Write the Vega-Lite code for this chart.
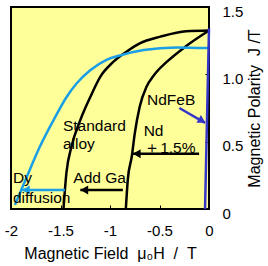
{
  "$schema": "https://vega.github.io/schema/vega-lite/v6.json",
  "width": 198,
  "height": 202,
  "autosize": "none",
  "padding": {"left": 11, "top": 7, "right": 59, "bottom": 57},
  "config": {
    "font": "Liberation Sans",
    "view": {"fill": "#FFFF99", "stroke": "#000000", "strokeWidth": 2}
  },
  "datasets": {
    "black_curves": [
      {"curve": "Standard alloy", "H": 0.0, "J": 1.325},
      {"curve": "Standard alloy", "H": -0.23, "J": 1.32},
      {"curve": "Standard alloy", "H": -0.49, "J": 1.28},
      {"curve": "Standard alloy", "H": -0.7, "J": 1.23},
      {"curve": "Standard alloy", "H": -0.83, "J": 1.17},
      {"curve": "Standard alloy", "H": -0.97, "J": 1.09},
      {"curve": "Standard alloy", "H": -1.1, "J": 0.98},
      {"curve": "Standard alloy", "H": -1.2, "J": 0.83},
      {"curve": "Standard alloy", "H": -1.3, "J": 0.66},
      {"curve": "Standard alloy", "H": -1.39, "J": 0.46},
      {"curve": "Standard alloy", "H": -1.44, "J": 0.27},
      {"curve": "Standard alloy", "H": -1.47, "J": 0.0},
      {"curve": "Nd +1.5%", "H": 0.0, "J": 1.325},
      {"curve": "Nd +1.5%", "H": -0.23, "J": 1.21},
      {"curve": "Nd +1.5%", "H": -0.43, "J": 1.09},
      {"curve": "Nd +1.5%", "H": -0.56, "J": 0.99},
      {"curve": "Nd +1.5%", "H": -0.63, "J": 0.91},
      {"curve": "Nd +1.5%", "H": -0.7, "J": 0.76},
      {"curve": "Nd +1.5%", "H": -0.75, "J": 0.56},
      {"curve": "Nd +1.5%", "H": -0.78, "J": 0.39},
      {"curve": "Nd +1.5%", "H": -0.82, "J": 0.22},
      {"curve": "Nd +1.5%", "H": -0.84, "J": 0.0}
    ],
    "blue_curve": [
      {"H": 0.0, "J": 1.195},
      {"H": -0.33, "J": 1.2},
      {"H": -0.66, "J": 1.18},
      {"H": -0.9, "J": 1.14},
      {"H": -1.03, "J": 1.11},
      {"H": -1.2, "J": 1.03},
      {"H": -1.34, "J": 0.93},
      {"H": -1.44, "J": 0.83},
      {"H": -1.57, "J": 0.66},
      {"H": -1.71, "J": 0.46},
      {"H": -1.84, "J": 0.24},
      {"H": -1.96, "J": 0.03}
    ],
    "ndfeb": [{"H": 0.0, "J": 1.34, "H2": -0.04, "J2": 0.0}],
    "black_arrows": [
      {"arrow": "Add Ga", "H": -0.87, "J": 0.141, "H2": -1.3, "J2": 0.141},
      {"arrow": "Nd", "H": -0.1, "J": 0.41, "H2": -0.77, "J2": 0.41}
    ],
    "blue_arrow": [{"arrow": "Dy", "H": -1.455, "J": 0.141, "H2": -1.89, "J2": 0.141}],
    "purple_arrow": [{"arrow": "NdFeB", "H": -0.3, "J": 0.75, "H2": -0.04, "J2": 0.64}],
    "labels": [
      {"label": "NdFeB", "H": -0.626, "J": 0.81},
      {"label": "Standard", "H": -1.475, "J": 0.62},
      {"label": "alloy", "H": -1.475, "J": 0.48},
      {"label": "Nd", "H": -0.66, "J": 0.58},
      {"label": "＋1.5%", "H": -0.655, "J": 0.455},
      {"label": "Add Ga", "H": -1.37, "J": 0.23},
      {"label": "Dy", "H": -1.98, "J": 0.23},
      {"label": "diffusion", "H": -1.98, "J": 0.08}
    ]
  },
  "encoding": {
    "x": {
      "field": "H",
      "type": "quantitative",
      "scale": {"domain": [-2, 0], "nice": false, "zero": false},
      "axis": {
        "orient": "bottom",
        "values": [-2, -1.5, -1, -0.5, 0],
        "labelExpr": "toString(datum.value)",
        "domain": false,
        "grid": false,
        "tickSize": -4,
        "tickColor": "#000000",
        "labelPadding": 18,
        "labelFontSize": 15,
        "labelColor": "#000000",
        "labelFlush": false,
        "labelOverlap": false,
        "title": "Magnetic Field\u00a0\u00a0μ₀H\u00a0\u00a0/\u00a0\u00a0T",
        "titleFontSize": 16,
        "titleFontWeight": "normal",
        "titleColor": "#000000",
        "titlePadding": 7
      }
    },
    "y": {
      "field": "J",
      "type": "quantitative",
      "scale": {"domain": [0, 1.5], "nice": false, "zero": false},
      "axis": {
        "orient": "right",
        "values": [0, 0.5, 1, 1.5],
        "labelExpr": "datum.value == 0 ? '0' : format(datum.value, '.1f')",
        "domain": false,
        "grid": false,
        "tickSize": -4,
        "tickColor": "#000000",
        "labelPadding": 17,
        "labelOffset": 4,
        "labelFontSize": 15,
        "labelColor": "#000000",
        "labelOverlap": false,
        "title": "Magnetic Polarity\u00a0\u00a0J\u00a0/T",
        "titleFontSize": 16,
        "titleFontWeight": "normal",
        "titleColor": "#000000",
        "titleAngle": 270,
        "titleBaseline": "top",
        "titlePadding": 4
      }
    }
  },
  "layer": [
    {
      "data": {"name": "black_curves"},
      "mark": {"type": "line", "color": "#000000", "strokeWidth": 2.5, "interpolate": "monotone"},
      "encoding": {"detail": {"field": "curve"}}
    },
    {
      "data": {"name": "blue_curve"},
      "mark": {"type": "line", "color": "#1A9FE6", "strokeWidth": 2.5, "interpolate": "monotone"},
      "encoding": {}
    },
    {
      "data": {"name": "ndfeb"},
      "mark": {"type": "rule", "color": "#3535C8", "strokeWidth": 2.5},
      "encoding": {"x2": {"field": "H2"}, "y2": {"field": "J2"}}
    },
    {
      "data": {"name": "black_arrows"},
      "mark": {"type": "rule", "color": "#000000", "strokeWidth": 2.5},
      "encoding": {"x2": {"field": "H2"}, "y2": {"field": "J2"}}
    },
    {
      "data": {"name": "black_arrows"},
      "mark": {"type": "point", "shape": "triangle-left", "filled": true, "color": "#000000", "size": 80, "opacity": 1, "xOffset": 4},
      "encoding": {"x": {"field": "H2", "type": "quantitative"}, "y": {"field": "J2", "type": "quantitative"}}
    },
    {
      "data": {"name": "blue_arrow"},
      "mark": {"type": "rule", "color": "#1A9FE6", "strokeWidth": 2.5},
      "encoding": {"x2": {"field": "H2"}, "y2": {"field": "J2"}}
    },
    {
      "data": {"name": "blue_arrow"},
      "mark": {"type": "point", "shape": "triangle-left", "filled": true, "color": "#1A9FE6", "size": 80, "opacity": 1, "xOffset": 4},
      "encoding": {"x": {"field": "H2", "type": "quantitative"}, "y": {"field": "J2", "type": "quantitative"}}
    },
    {
      "data": {"name": "purple_arrow"},
      "mark": {"type": "rule", "color": "#3535C8", "strokeWidth": 2.5},
      "encoding": {"x2": {"field": "H2"}, "y2": {"field": "J2"}}
    },
    {
      "data": {"name": "purple_arrow"},
      "mark": {"type": "point", "shape": "triangle-up", "angle": 120, "filled": true, "color": "#3535C8", "size": 80, "opacity": 1, "xOffset": -3, "yOffset": -2},
      "encoding": {"x": {"field": "H2", "type": "quantitative"}, "y": {"field": "J2", "type": "quantitative"}}
    },
    {
      "data": {"name": "labels"},
      "mark": {"type": "text", "align": "left", "baseline": "middle", "fontSize": 15.5, "font": "Liberation Sans", "color": "#000000"},
      "encoding": {"text": {"field": "label"}}
    }
  ]
}
